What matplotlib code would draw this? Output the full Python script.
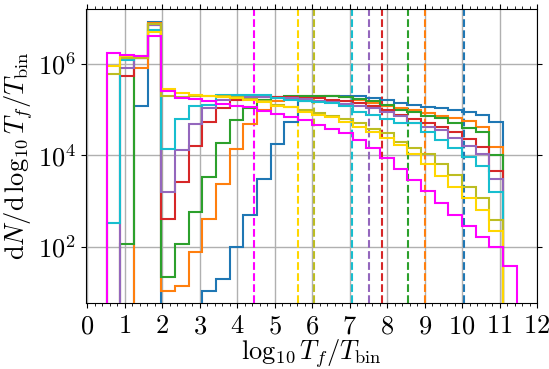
import numpy as np
import matplotlib
matplotlib.use("Agg")
import matplotlib.pyplot as plt
from matplotlib.ticker import FuncFormatter, FixedLocator, MultipleLocator, NullLocator

plt.rcParams['mathtext.fontset'] = 'cm'
plt.rcParams['font.family'] = 'serif'

# bin edges of log10 T_f/T_bin
bin_lo, bin_hi, n_bins = 0.51, 11.46, 30
edges = np.linspace(bin_lo, bin_hi, n_bins + 1)

# log10 of dN/dlog10 per bin (None = empty bin)
log_blue = [None, None, 5.07, 6.92, None, None, None, 1.04, 1.29, 2.00, 2.70, 3.49, 4.25, 4.74, 5.20,
            5.28, 5.31, 5.31, 5.30, 5.25, 5.21, 5.14, 5.10, 5.06, 5.03, 4.99, 4.95, 4.89, 4.74, None]
log_orange = [None, None, 5.92, 6.90, 1.04, 1.15, 1.88, 2.61, 3.37, 4.14, 4.68, 5.00, 5.18, 5.26, 5.30,
              5.30, 5.29, 5.28, 5.22, 5.15, 5.09, 5.04, 4.99, 4.93, 4.87, 4.81, 4.75, 4.63, 4.19, None]
log_green = [None, 2.06, 6.12, 6.87, 1.35, 2.07, 2.76, 3.52, 4.28, 4.78, 5.03, 5.22, 5.28, 5.30, 5.30,
             5.30, 5.29, 5.27, 5.23, 5.18, 5.11, 5.00, 4.94, 4.87, 4.81, 4.72, 4.61, 4.51, 4.01, None]
log_red = [None, 5.74, 6.12, 6.86, 2.62, 3.43, 4.21, 4.74, 5.03, 5.22, 5.27, 5.28, 5.28, 5.27, 5.26,
           5.25, 5.22, 5.18, 5.14, 5.07, 5.00, 4.88, 4.79, 4.70, 4.62, 4.51, 4.36, 4.19, 3.67, None]
log_purple = [None, 5.91, 6.13, 6.85, 3.20, 4.12, 4.69, 5.03, 5.22, 5.28, 5.28, 5.27, 5.26, 5.25, 5.23,
              5.20, 5.17, 5.13, 5.09, 5.03, 4.96, 4.86, 4.72, 4.63, 4.56, 4.39, 4.21, 4.03, 3.48, None]
log_cyan = [2.53, 6.08, 6.15, 6.75, 4.14, 4.79, 5.09, 5.10, 5.32, 5.33, 5.33, 5.32, 5.26, 5.22, 5.20,
            5.17, 5.14, 5.08, 4.96, 4.88, 4.80, 4.72, 4.70, 4.51, 4.34, 4.17, 3.97, 3.77, 3.21, None]
log_olive = [5.77, 6.12, 6.14, 6.88, 5.31, 5.28, 5.30, 5.30, 5.29, 5.27, 5.24, 5.20, 5.10, 5.05, 5.00,
             4.93, 4.86, 4.80, 4.70, 4.58, 4.48, 4.30, 4.17, 4.03, 3.81, 3.57, 3.32, 3.06, 2.59, None]
log_gold = [5.96, 6.18, 6.17, 6.70, 5.46, 5.36, 5.33, 5.30, 5.28, 5.26, 5.21, 5.17, 5.08, 5.05, 4.94,
            4.89, 4.84, 4.74, 4.63, 4.51, 4.38, 4.23, 4.03, 3.81, 3.56, 3.32, 3.06, 2.81, 2.36, None]
log_magenta = [6.23, 6.20, 6.18, 6.62, 5.40, 5.26, 5.24, 5.18, 5.12, 5.08, 5.05, 4.97, 4.90, 4.85, 4.78,
               4.66, 4.58, 4.48, 4.34, 4.16, 3.94, 3.70, 3.46, 3.22, 2.97, 2.71, 2.45, 2.21, 2.00, 1.58]

# characteristic values (dashed lines)
marks = {'tab:blue': 10.06, 'tab:orange': 9.01, 'tab:green': 8.56, 'tab:red': 7.85,
         'tab:purple': 7.52, 'tab:cyan': 7.06, 'tab:olive': 6.04, 'gold': 5.63, 'magenta': 4.44}

series = [('tab:blue', log_blue), ('tab:orange', log_orange), ('tab:green', log_green),
          ('tab:red', log_red), ('tab:purple', log_purple), ('tab:cyan', log_cyan),
          ('tab:olive', log_olive), ('gold', log_gold), ('magenta', log_magenta)]

x_ticks = list(range(0, 13))
y_ticks = [1e2, 1e4, 1e6]

fig = plt.figure(figsize=(5.49, 3.69), dpi=100)
ax = fig.add_axes([86/549, 1-303.3/369, (537-86)/549, (303.3-9)/369])

floor = 1e-3
for color, logs in series:
    vals = np.array([10**v if v is not None else floor for v in logs])
    ax.stairs(vals, edges, baseline=floor, color=color, lw=1.5, zorder=3)

for color, xv in marks.items():
    ax.axvline(xv, color=color, ls='--', lw=1.5, zorder=2)

ax.set_yscale('log')
ax.set_xlim(-0.04, 12)
ax.set_ylim(10**0.77, 10**7.2)
ax.xaxis.set_major_locator(FixedLocator(x_ticks))
ax.xaxis.set_minor_locator(MultipleLocator(0.2))
ax.yaxis.set_major_locator(FixedLocator(y_ticks))
ax.yaxis.set_minor_locator(NullLocator())
ax.xaxis.set_major_formatter(FuncFormatter(lambda v, p: r'$%d$' % round(v)))
ax.yaxis.set_major_formatter(FuncFormatter(lambda v, p: r'$10^{%d}$' % round(np.log10(v))))
ax.tick_params(which='both', direction='out', top=True, right=True, labelsize=19)
ax.grid(True, which='major', color='#b0b0b0', lw=1.0, zorder=0)
ax.set_axisbelow(True)

ax.set_xlabel(r'$\log_{10}T_f/T_{\rm bin}$', fontsize=19, labelpad=-1)
ax.set_ylabel(r'${\rm d}N/{\rm d}\,\log_{10}T_f/T_{\rm bin}$', fontsize=19, labelpad=2)

fig.savefig('out.png', dpi=100)
